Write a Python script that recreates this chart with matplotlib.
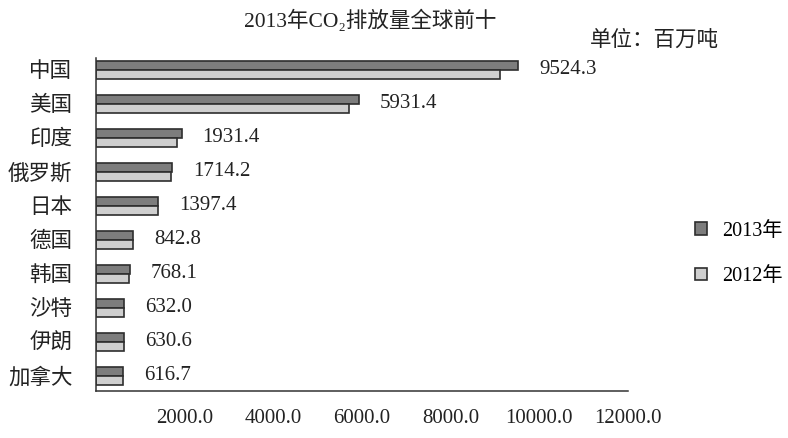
import numpy as np
import matplotlib
matplotlib.use("Agg")
from matplotlib import pyplot as plt
from matplotlib.patches import Patch

plt.rcParams['font.family'] = ['Liberation Serif', 'Noto Sans CJK SC', 'DejaVu Sans']

# data (million tonnes CO2)
countries = ["中国", "美国", "印度", "俄罗斯", "日本", "德国", "韩国", "沙特", "伊朗", "加拿大"]
co2_2013 = [9524.3, 5931.4, 1931.4, 1714.2, 1397.4, 842.8, 768.1, 632.0, 630.6, 616.7]
co2_2012 = [9120.0, 5710.0, 1830.0, 1700.0, 1390.0, 830.0, 745.0, 625.0, 625.0, 615.0]
xticks = [2000, 4000, 6000, 8000, 10000, 12000]

fig = plt.figure(figsize=(7.88, 4.38), dpi=100)
ax = fig.add_axes([96 / 788, 47 / 438, 532 / 788, 333 / 438])

y = np.arange(len(countries))
h = 0.27
ax.barh(y - h / 2, co2_2013, height=h, color="#7d7d7d", edgecolor="#2e2e2e",
        linewidth=1.2, label="2013年")
ax.barh(y + h / 2, co2_2012, height=h, color="#cfcfcf", edgecolor="#2e2e2e",
        linewidth=1.2, label="2012年")

for yi, v in zip(y, co2_2013):
    ax.annotate(f"{v:.1f}", (v, yi), xytext=(15, 0), textcoords="offset points",
                va="center", ha="left", fontsize=15, color="#222222")

ax.set_xlim(0, 12000)
ax.set_ylim(9.45, -0.35)
ax.set_yticks(y)
ax.set_yticklabels(countries, fontsize=15.5, color="#222222")
ax.set_xticks(xticks)
ax.set_xticklabels([f"{t:.1f}" for t in xticks], fontsize=15, color="#222222")
ax.tick_params(axis="both", length=0)
ax.tick_params(axis="x", pad=13)
ax.tick_params(axis="y", pad=17)
for s in ["top", "right"]:
    ax.spines[s].set_visible(False)
for s in ["left", "bottom"]:
    ax.spines[s].set_color("#333333")
    ax.spines[s].set_linewidth(1.1)

fig.text(0.47, 0.953, "2013年CO₂排放量全球前十", ha="center", va="center",
         fontsize=15.5, color="#222222")
fig.text(0.831, 0.908, "单位：百万吨", ha="center", va="center",
         fontsize=15.5, color="#222222")

handles = [Patch(facecolor="#7d7d7d", edgecolor="#2e2e2e", linewidth=1.2),
           Patch(facecolor="#cfcfcf", edgecolor="#2e2e2e", linewidth=1.2)]
fig.legend(handles, ["2013年", "2012年"], loc="center left",
           bbox_to_anchor=(0.869, 0.42), frameon=False, fontsize=14.5,
           handlelength=0.6, handleheight=0.6, handletextpad=0.75,
           labelspacing=1.3, borderpad=0)

fig.savefig("out.png", dpi=100)
